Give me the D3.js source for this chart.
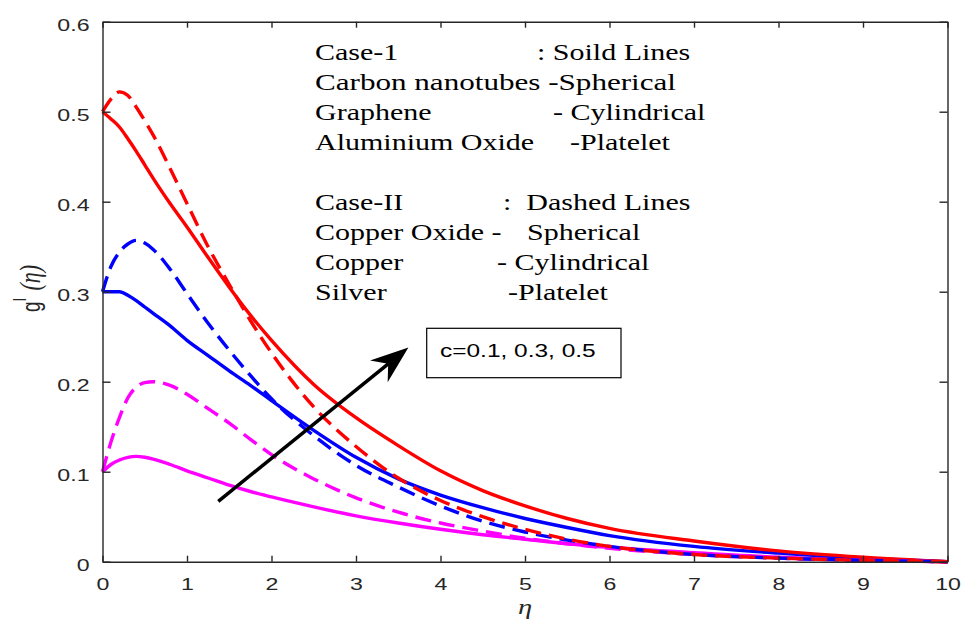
<!DOCTYPE html>
<html>
<head>
<meta charset="utf-8">
<script src="https://cdn.jsdelivr.net/npm/d3@7"></script>
<style>
  html, body { margin: 0; padding: 0; background: #fff; }
  svg { display: block; }
</style>
</head>
<body>
<svg id="chart" width="962" height="630"></svg>
<script>
// ---------------- data ----------------
const eta = [0, 0.1, 0.2, 0.3, 0.4, 0.5, 0.6, 0.8, 1.0, 1.25, 1.5, 1.75, 2.0, 2.5, 3.0, 3.5, 4.0, 4.5, 5.0, 5.5, 6.0, 7.0, 8.0, 9.0, 10.0];

// Case-1 (solid lines)
const case1_c01 = [0.100, 0.108, 0.113, 0.116, 0.117, 0.116, 0.114, 0.108, 0.101, 0.093, 0.085, 0.078, 0.072, 0.061, 0.051, 0.043, 0.036, 0.030, 0.025, 0.020, 0.016, 0.010, 0.005, 0.002, 0.000];
const case1_c03 = [0.300, 0.300, 0.300, 0.296, 0.290, 0.283, 0.276, 0.262, 0.246, 0.229, 0.212, 0.196, 0.179, 0.146, 0.116, 0.092, 0.074, 0.060, 0.048, 0.038, 0.029, 0.017, 0.0095, 0.004, 0.000];
const case1_c05 = [0.500, 0.492, 0.483, 0.470, 0.456, 0.441, 0.426, 0.398, 0.372, 0.338, 0.305, 0.274, 0.246, 0.197, 0.160, 0.129, 0.101, 0.079, 0.062, 0.048, 0.037, 0.023, 0.012, 0.005, 0.000];

// Case-II (dashed lines)
const case2_c01 = [0.100, 0.133, 0.160, 0.182, 0.194, 0.199, 0.200, 0.196, 0.186, 0.170, 0.154, 0.136, 0.119, 0.092, 0.071, 0.055, 0.043, 0.034, 0.026, 0.020, 0.015, 0.008, 0.004, 0.0015, 0.000];
const case2_c03 = [0.300, 0.328, 0.344, 0.353, 0.357, 0.354, 0.347, 0.325, 0.298, 0.265, 0.235, 0.207, 0.181, 0.140, 0.107, 0.083, 0.062, 0.045, 0.033, 0.024, 0.017, 0.008, 0.004, 0.0015, 0.000];
const case2_c05 = [0.500, 0.514, 0.522, 0.518, 0.505, 0.490, 0.474, 0.437, 0.398, 0.350, 0.308, 0.268, 0.232, 0.172, 0.128, 0.093, 0.068, 0.050, 0.036, 0.025, 0.017, 0.008, 0.004, 0.0015, 0.000];

const xTicks = [0, 1, 2, 3, 4, 5, 6, 7, 8, 9, 10];
const xTickLabels = ["0", "1", "2", "3", "4", "5", "6", "7", "8", "9", "10"];
const yTicks = [0, 0.1, 0.2, 0.3, 0.4, 0.5, 0.6];
const yTickLabels = ["0", "0.1", "0.2", "0.3", "0.4", "0.5", "0.6"];

const legendCase1 = [
  ["Case-1", ": Soild Lines"],
  ["Carbon nanotubes -Spherical", ""],
  ["Graphene", "- Cylindrical"],
  ["Aluminium Oxide", "-Platelet"]
];
const legendCase2 = [
  ["Case-II", ":  Dashed Lines"],
  ["Copper Oxide -", "Spherical"],
  ["Copper", "- Cylindrical"],
  ["Silver", "-Platelet"]
];
const boxLabel = "c=0.1, 0.3, 0.5";
// arrow annotation in data units: [eta, g]
const arrowTail = [1.37, 0.067];
const arrowTip = [3.62, 0.238];

// ---------------- layout ----------------
const svg = d3.select("#chart");
const L = 102.5, R = 947.5, T = 21.7, B = 561.7;
const SX = 1.36; // horizontal stretch of the original rendering
const axisColor = "#262626";

const x = d3.scaleLinear().domain([0, 10]).range([L, R]);
const y = d3.scaleLinear().domain([0, 0.6]).range([B, T]);

// series
const series = [
  { vals: case1_c01, color: "#ff00ff", dash: null },
  { vals: case1_c03, color: "#0000ff", dash: null },
  { vals: case1_c05, color: "#ff0000", dash: null },
  { vals: case2_c01, color: "#ff00ff", dash: "16,8" },
  { vals: case2_c03, color: "#0000ff", dash: "16,8" },
  { vals: case2_c05, color: "#ff0000", dash: "16,8" }
];

const line = d3.line()
  .x((d, i) => x(eta[i]))
  .y(d => y(d))
  .curve(d3.curveMonotoneX);

svg.append("g").selectAll("path")
  .data(series)
  .join("path")
  .attr("d", d => line(d.vals))
  .attr("fill", "none")
  .attr("stroke", d => d.color)
  .attr("stroke-width", 3.4)
  .attr("stroke-dasharray", d => d.dash)
  .attr("stroke-linejoin", "round");

// ---------------- axes ----------------
function styleAxis(g) {
  g.select(".domain").attr("stroke", axisColor).attr("stroke-width", 1.4);
  g.selectAll(".tick line").attr("stroke", axisColor).attr("stroke-width", 1.4);
}

const xAxis = svg.append("g")
  .attr("transform", `translate(0,${B})`)
  .call(d3.axisBottom(x).tickValues(xTicks).tickFormat((d, i) => xTickLabels[i])
    .tickSizeInner(-6).tickSizeOuter(0).tickPadding(16));
styleAxis(xAxis);
xAxis.selectAll(".tick text")
  .attr("font-family", "'Liberation Sans', Arial, sans-serif")
  .attr("font-size", 17)
  .attr("fill", axisColor)
  .attr("transform", `scale(${SX},1)`);

const xAxisTop = svg.append("g")
  .attr("transform", `translate(0,${T})`)
  .call(d3.axisTop(x).tickValues(xTicks).tickFormat("")
    .tickSizeInner(-6).tickSizeOuter(0));
styleAxis(xAxisTop);

const yAxis = svg.append("g")
  .attr("transform", `translate(${L},0)`)
  .call(d3.axisLeft(y).tickValues(yTicks).tickFormat((d, i) => yTickLabels[i])
    .tickSizeInner(-8).tickSizeOuter(0));
styleAxis(yAxis);
yAxis.selectAll(".tick text")
  .attr("font-family", "'Liberation Sans', Arial, sans-serif")
  .attr("font-size", 17)
  .attr("fill", axisColor)
  .attr("x", -13 / SX)
  .attr("dy", "0.5em")
  .attr("transform", `scale(${SX},1)`);

const yAxisRight = svg.append("g")
  .attr("transform", `translate(${R},0)`)
  .call(d3.axisRight(y).tickValues(yTicks).tickFormat("")
    .tickSizeInner(-8).tickSizeOuter(0));
styleAxis(yAxisRight);

// axis labels
svg.append("text")
  .attr("transform", `translate(525,614) scale(${SX},1)`)
  .attr("text-anchor", "middle")
  .attr("font-family", "'Liberation Serif', 'Times New Roman', serif")
  .attr("font-style", "italic")
  .attr("font-size", 21)
  .attr("fill", axisColor)
  .text("η");

const yl = svg.append("text")
  .attr("transform", `translate(40,312) scale(${SX},1) rotate(-90)`)
  .attr("text-anchor", "start")
  .attr("fill", axisColor);
yl.append("tspan")
  .attr("font-family", "'Liberation Sans', Arial, sans-serif")
  .attr("font-size", 19)
  .text("g");
yl.append("tspan")
  .attr("font-family", "'Liberation Sans', Arial, sans-serif")
  .attr("font-size", 14)
  .attr("dx", 0)
  .attr("dy", -10)
  .text("I");
yl.append("tspan")
  .attr("font-family", "'Liberation Serif', 'Times New Roman', serif")
  .attr("font-style", "italic")
  .attr("font-size", 22)
  .attr("dx", 7)
  .attr("dy", 10)
  .text("(η)");

// ---------------- legend text ----------------
const legFont = "'Liberation Serif', 'Times New Roman', serif";
const legFS = 24, legSX = 1.25;
const rightCol1 = [537, 0, 553, 570];
const rightCol2 = [503, 527, 497, 508];
function drawLegend(rows, baseY, rightX) {
  rows.forEach((r, i) => {
    const yy = baseY + i * 30;
    const t = svg.append("text")
      .attr("transform", `translate(315,${yy}) scale(${legSX},1)`)
      .attr("font-family", legFont).attr("font-size", legFS).attr("fill", "#000")
      .style("white-space", "pre")
      .text(r[0]);
    if (r[1]) {
      svg.append("text")
        .attr("transform", `translate(${rightX[i]},${yy}) scale(${legSX},1)`)
        .attr("font-family", legFont).attr("font-size", legFS).attr("fill", "#000")
        .style("white-space", "pre")
        .text(r[1]);
    } else {
      // full-width single line (ends at x ~ 676)
      t.attr("textLength", (676 - 315) / legSX).attr("lengthAdjust", "spacingAndGlyphs");
    }
  });
}
drawLegend(legendCase1, 60, rightCol1);
drawLegend(legendCase2, 210, rightCol2);

// ---------------- annotation box ----------------
svg.append("rect")
  .attr("x", 426.7).attr("y", 328.3)
  .attr("width", 194.3).attr("height", 49.4)
  .attr("fill", "#fff").attr("stroke", "#000").attr("stroke-width", 1.2);
svg.append("text")
  .attr("transform", `translate(440,357) scale(${SX},1)`)
  .attr("font-family", "'Liberation Sans', Arial, sans-serif")
  .attr("font-size", 18).attr("fill", "#000")
  .text(boxLabel);

// ---------------- arrow ----------------
const tx = x(arrowTail[0]), ty = y(arrowTail[1]);
const hx = x(arrowTip[0]), hy = y(arrowTip[1]);
const ang = Math.atan2(hy - ty, hx - tx) * 180 / Math.PI;
const len = Math.hypot(hx - tx, hy - ty);
const ag = svg.append("g").attr("transform", `translate(${tx},${ty}) rotate(${ang})`);
ag.append("line")
  .attr("x1", 0).attr("y1", 0).attr("x2", len - 20).attr("y2", 0)
  .attr("stroke", "#000").attr("stroke-width", 3.5);
ag.append("path")
  .attr("d", `M${len},0 L${len - 38},-14 L${len - 26},0 L${len - 38},14 Z`)
  .attr("fill", "#000");
</script>
</body>
</html>
